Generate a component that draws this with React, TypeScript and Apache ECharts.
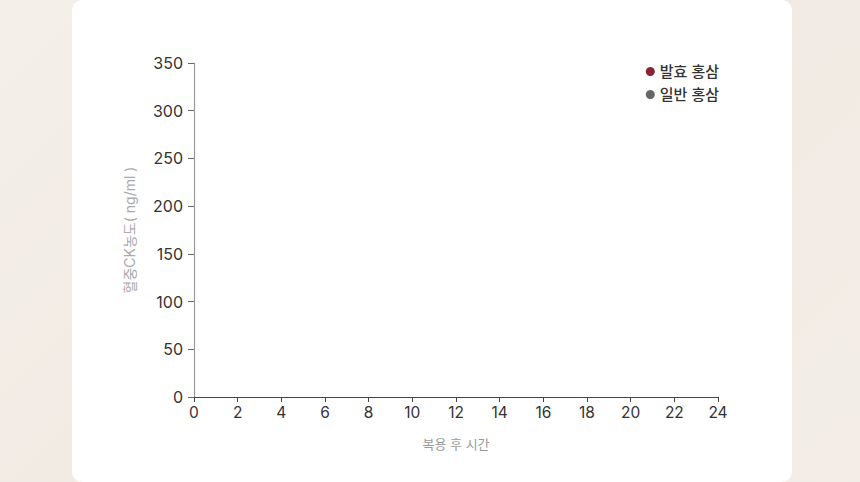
import { useEffect, useRef } from 'react'
import * as echarts from 'echarts'

const seriesNames = ['발효 홍삼', '일반 홍삼']
const seriesColors = ['#8a2538', '#666666']
// the reference shows no plotted points, only the legend and axes
const fermentedData: [number, number][] = []
const regularData: [number, number][] = []

const xTitle = '복용 후 시간'
const yTitle = '혈중CK농도( ng/ml )'

const FONT = "Inter, 'Noto Sans CJK KR', sans-serif"

export default function App() {
  const chartRef = useRef<HTMLDivElement>(null)

  useEffect(() => {
    document.body.style.margin = '0'
    if (!chartRef.current) return
    const chart = echarts.init(chartRef.current, undefined, { renderer: 'svg' })

    const option: echarts.EChartsOption = {
      animation: false,
      textStyle: { fontFamily: FONT },
      grid: { left: 122, right: 74, top: 63, bottom: 85 },
      legend: {
        orient: 'vertical',
        right: 68,
        top: 59,
        icon: 'circle',
        itemWidth: 9,
        itemHeight: 9,
        itemGap: 8,
        textStyle: { fontSize: 15, color: '#333', fontWeight: 500, fontFamily: FONT },
        data: seriesNames
      },
      xAxis: {
        type: 'value',
        min: 0,
        max: 24,
        interval: 2,
        name: xTitle,
        nameLocation: 'middle',
        nameGap: 40,
        nameTextStyle: { color: '#999', fontSize: 13 },
        axisLine: { show: true, lineStyle: { color: '#444', width: 1.2 } },
        axisTick: { show: true, length: 5, lineStyle: { color: '#444' } },
        axisLabel: { color: '#333', fontSize: 15.5, margin: 8 },
        splitLine: { show: false }
      },
      yAxis: {
        type: 'value',
        min: 0,
        max: 350,
        interval: 50,
        name: yTitle,
        nameLocation: 'middle',
        nameGap: 58,
        nameTextStyle: { color: '#aaa', fontSize: 14 },
        axisLine: { show: true, lineStyle: { color: '#999', width: 1.2 } },
        axisTick: { show: true, length: 6, lineStyle: { color: '#666' } },
        axisLabel: { color: '#333', fontSize: 16, margin: 11 },
        splitLine: { show: false }
      },
      series: [
        {
          name: seriesNames[0],
          type: 'line',
          itemStyle: { color: seriesColors[0] },
          lineStyle: { color: seriesColors[0], width: 2 },
          data: fermentedData
        },
        {
          name: seriesNames[1],
          type: 'line',
          itemStyle: { color: seriesColors[1] },
          lineStyle: { color: seriesColors[1], width: 2 },
          data: regularData
        }
      ]
    }

    chart.setOption(option)
    return () => chart.dispose()
  }, [])

  return (
    <div
      style={{
        position: 'absolute',
        left: 0,
        top: 0,
        width: 860,
        height: 482,
        overflow: 'hidden',
        background: 'linear-gradient(135deg, #f4efe9 0%, #f1eae3 50%, #f3ede7 100%)'
      }}
    >
      <div
        style={{
          position: 'absolute',
          left: 72,
          top: 0,
          width: 720,
          height: 482,
          background: '#fff',
          borderRadius: 10,
          overflow: 'hidden'
        }}
      >
        <div ref={chartRef} style={{ width: 720, height: 482 }} />
      </div>
    </div>
  )
}
